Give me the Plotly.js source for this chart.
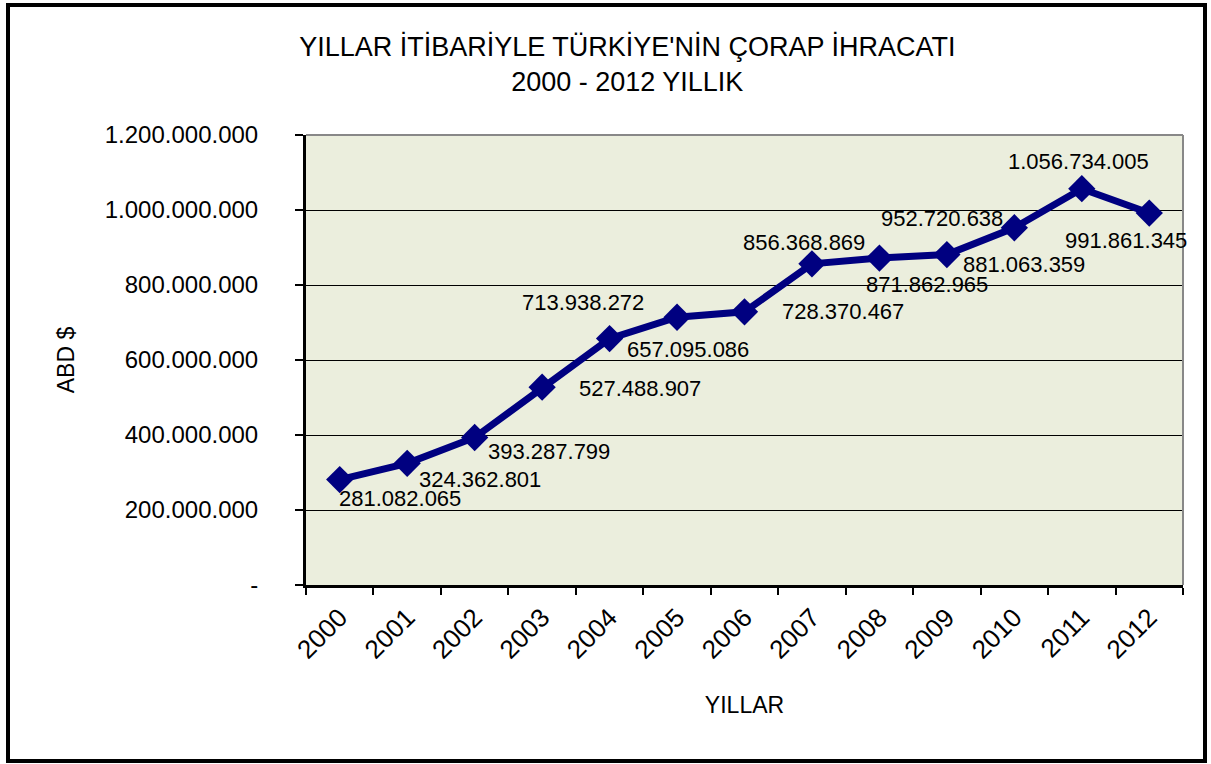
<!DOCTYPE html>
<html>
<head>
<meta charset="utf-8">
<script src="https://cdn.plot.ly/plotly-3.0.1.min.js"></script>
<style>
html,body{margin:0;padding:0;background:#fff;}
#wrap{position:relative;width:1211px;height:764px;}
#chart{width:1211px;height:764px;}
#frame{position:absolute;left:6px;top:3px;width:1193px;height:752px;border:4px solid #000;pointer-events:none;}
</style>
</head>
<body>
<div id="wrap"><div id="chart"></div><div id="frame"></div></div>
<script>
const years = ['2000','2001','2002','2003','2004','2005','2006','2007','2008','2009','2010','2011','2012'];
const exportValues = [281082065, 324362801, 393287799, 527488907, 657095086, 713938272, 728370467, 856368869, 871862965, 881063359, 952720638, 1056734005, 991861345];
const yTicks = [0, 200000000, 400000000, 600000000, 800000000, 1000000000, 1200000000];

// label placement (style): [xanchor, xshift px, yshift px]
const labelPlace = [
  ['left', -3, -19], ['left', 10, -16], ['left', 11, -14], ['left', 35, -1],
  ['left', 15, -11], ['right', -31, 15], ['left', 35, 0], ['center', -8, 21],
  ['center', 48, -26], ['left', 14, -10], ['right', -9, 9], ['center', -3, 27],
  ['center', -23, -27]
];

function fmt(v){
  return String(v).replace(/\B(?=(\d{3})+(?!\d))/g, '.');
}
function fmtTick(v){ return v === 0 ? '-' : fmt(v); }

const FONT = 'Liberation Sans, Arial, sans-serif';

const annotations = years.map((yr, i) => ({
  x: i, y: exportValues[i], xref: 'x', yref: 'y',
  text: fmt(exportValues[i]), showarrow: false,
  xanchor: labelPlace[i][0], yanchor: 'middle',
  xshift: labelPlace[i][1], yshift: labelPlace[i][2],
  font: {family: FONT, size: 22, color: '#000'}
}));

const trace = {
  x: years, y: exportValues, type: 'scatter', mode: 'lines+markers',
  line: {color: '#000080', width: 7},
  marker: {symbol: 'diamond', size: 21, color: '#000080'},
  hoverinfo: 'skip'
};

const layout = {
  width: 1211, height: 764,
  margin: {l: 306, r: 28, t: 135, b: 179},
  paper_bgcolor: '#ffffff', plot_bgcolor: '#EBEEDD',
  showlegend: false,
  title: {
    text: "YILLAR İTİBARİYLE TÜRKİYE'NİN ÇORAP İHRACATI<br>2000 - 2012 YILLIK",
    font: {family: FONT, size: 27, color: '#000'},
    x: 0.518, xanchor: 'center', y: 0.927, yanchor: 'middle'
  },
  xaxis: {
    type: 'category', tickson: 'boundaries', ticks: 'outside', ticklen: 7, tickcolor: '#000', tickwidth: 2,
    tickangle: -45, tickfont: {family: FONT, size: 26, color: '#000'},
    ticklabelstandoff: 4,
    showline: true, linecolor: '#000', linewidth: 3, showgrid: false, zeroline: false,
    title: {text: 'YILLAR', font: {family: FONT, size: 23, color: '#000'}, standoff: 34},
    range: [-0.5, 12.5]
  },
  yaxis: {
    range: [0, 1200000000], tickvals: yTicks, ticktext: yTicks.map(fmtTick),
    ticks: 'outside', ticklen: 8, tickcolor: '#000', tickwidth: 2,
    tickfont: {family: FONT, size: 24, color: '#000'},
    showline: true, linecolor: '#000', linewidth: 3,
    showgrid: true, gridcolor: '#000', gridwidth: 1, zeroline: false,
    title: {text: 'ABD $', font: {family: FONT, size: 23, color: '#000'}, standoff: 24},
    ticklabelstandoff: 32
  },
  shapes: [
    {type: 'line', xref: 'paper', yref: 'paper', x0: 0, x1: 1, y0: 1, y1: 1, line: {color: '#888', width: 2}},
    {type: 'line', xref: 'paper', yref: 'paper', x0: 1, x1: 1, y0: 0, y1: 1, line: {color: '#888', width: 2}}
  ],
  annotations: annotations
};

Plotly.newPlot('chart', [trace], layout, {displayModeBar: false, staticPlot: true});
</script>
</body>
</html>
